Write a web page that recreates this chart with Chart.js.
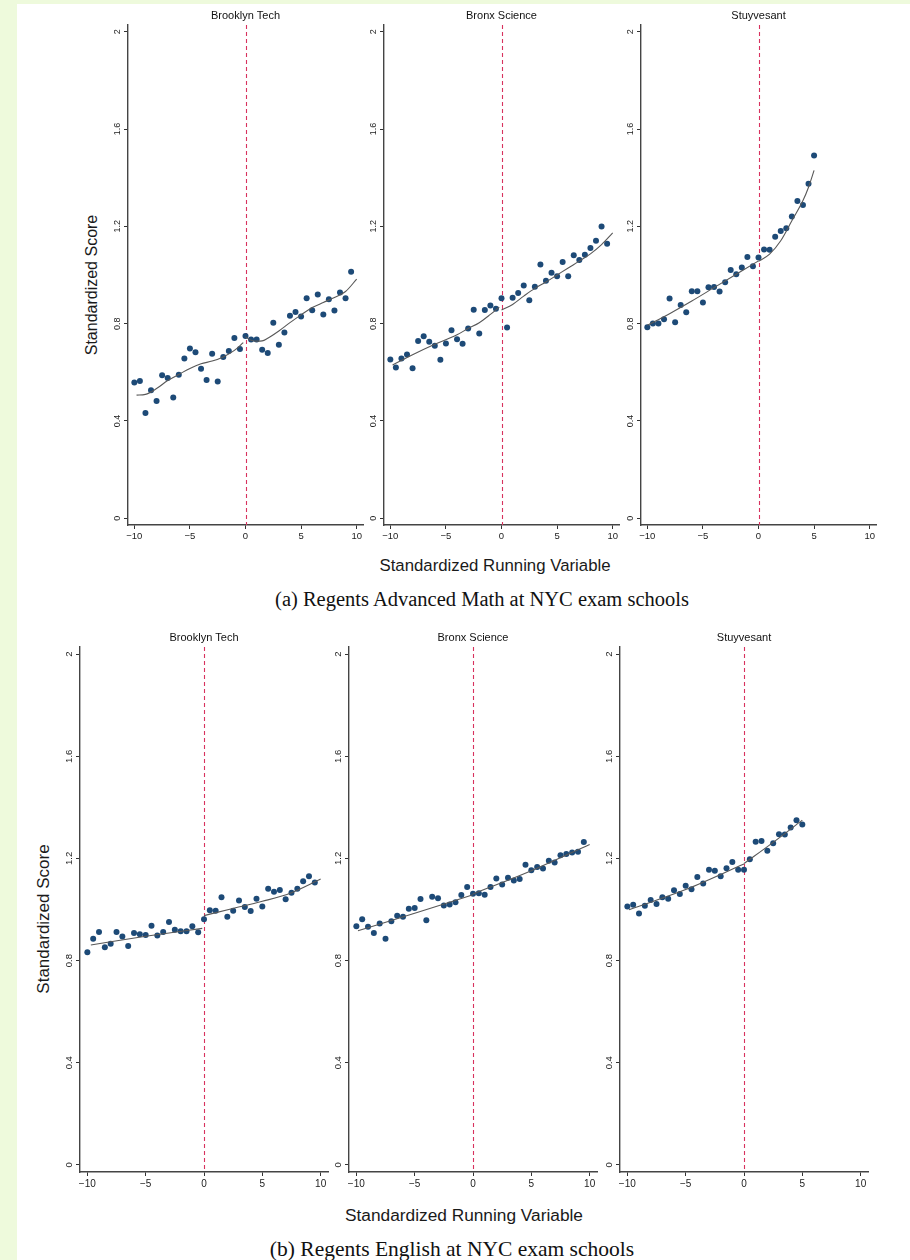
<!DOCTYPE html>
<html>
<head>
<meta charset="utf-8">
<script src="https://cdn.jsdelivr.net/npm/chart.js@4.4.0/dist/chart.umd.min.js"></script>
<style>
    html, body { margin: 0; padding: 0; }
    body { width: 910px; height: 1260px; background: #eefadc; position: relative; overflow: hidden;
           font-family: 'Liberation Sans', Arial, sans-serif; }
    #sheet { position: absolute; left: 17px; top: 4px; width: 893px; height: 1256px; background: #fff; }
    canvas { position: absolute; }
    .lbl { position: absolute; white-space: nowrap; color: #1a1a1a; transform: translate(-50%, -50%); }
    .ytitle { transform: translate(-50%, -50%) rotate(-90deg); }
    .cap { font-family: 'Liberation Serif', 'Times New Roman', serif; color: #111; }
</style>
</head>
<body>
<div id="sheet"></div>

<div class="lbl ytitle" style="left:92px;top:285px;font-size:16px">Standardized Score</div>
<div class="lbl" style="left:495px;top:566px;font-size:16.8px">Standardized Running Variable</div>
<div class="lbl cap" style="left:482px;top:599px;font-size:20.5px">(a) Regents Advanced Math at NYC exam schools</div>

<div class="lbl ytitle" style="left:44px;top:919px;font-size:17px">Standardized Score</div>
<div class="lbl" style="left:464px;top:1215px;font-size:17.3px">Standardized Running Variable</div>
<div class="lbl cap" style="left:452px;top:1249px;font-size:21.5px">(b) Regents English at NYC exam schools</div>

<script>
    "use strict";

    // running-variable bins
    const bins40 = [-10, -9.5, -9, -8.5, -8, -7.5, -7, -6.5, -6, -5.5, -5, -4.5, -4, -3.5, -3, -2.5, -2, -1.5, -1, -0.5,
        0, 0.5, 1, 1.5, 2, 2.5, 3, 3.5, 4, 4.5, 5, 5.5, 6, 6.5, 7, 7.5, 8, 8.5, 9, 9.5];
    const bins31 = [-10, -9.5, -9, -8.5, -8, -7.5, -7, -6.5, -6, -5.5, -5, -4.5, -4, -3.5, -3, -2.5, -2, -1.5, -1, -0.5,
        0, 0.5, 1, 1.5, 2, 2.5, 3, 3.5, 4, 4.5, 5];

    // (a) Regents Advanced Math
    const mathBrooklyn = [0.558, 0.564, 0.433, 0.526, 0.482, 0.588, 0.576, 0.496, 0.590, 0.657, 0.698, 0.682, 0.614, 0.568,
        0.676, 0.562, 0.663, 0.687, 0.741, 0.696, 0.749, 0.735, 0.735, 0.693, 0.679, 0.804, 0.713, 0.764, 0.832, 0.848,
        0.829, 0.904, 0.855, 0.920, 0.838, 0.900, 0.854, 0.928, 0.904, 1.013];
    const mathBronx = [0.653, 0.620, 0.657, 0.673, 0.617, 0.729, 0.748, 0.726, 0.709, 0.651, 0.718, 0.773, 0.736, 0.717,
        0.780, 0.857, 0.759, 0.856, 0.875, 0.861, 0.904, 0.784, 0.906, 0.926, 0.957, 0.896, 0.952, 1.043, 0.976, 1.009,
        0.995, 1.053, 0.995, 1.081, 1.062, 1.083, 1.111, 1.141, 1.199, 1.129];
    const mathStuy = [0.785, 0.801, 0.801, 0.818, 0.903, 0.806, 0.877, 0.847, 0.933, 0.933, 0.887, 0.950, 0.951, 0.932,
        0.970, 1.021, 1.003, 1.031, 1.074, 1.036, 1.072, 1.105, 1.104, 1.157, 1.181, 1.192, 1.241, 1.304, 1.288, 1.375, 1.491];

    const mathBrooklynFitL = [[-9.8, 0.506], [-9, 0.509], [-8, 0.533], [-7, 0.566], [-6, 0.591], [-5, 0.616], [-4, 0.635],
        [-3, 0.646], [-2, 0.663], [-1, 0.690], [-0.2, 0.722]];
    const mathBrooklynFitR = [[0, 0.745], [0.5, 0.732], [1, 0.728], [1.5, 0.729], [2, 0.740], [3, 0.770], [4, 0.804],
        [5, 0.836], [6, 0.866], [7, 0.887], [8, 0.907], [9, 0.932], [10, 0.983]];
    const mathBronxFitL = [[-9.8, 0.630], [-8, 0.672], [-6, 0.715], [-4, 0.754], [-3, 0.780], [-2, 0.804], [-1, 0.838], [-0.2, 0.868]];
    const mathBronxFitR = [[0, 0.856], [1, 0.879], [2, 0.913], [3, 0.945], [4, 0.971], [5, 1.000], [6, 1.029], [7, 1.057],
        [8, 1.087], [9, 1.125], [10, 1.173]];
    const mathStuyFitL = [[-10, 0.793], [-8, 0.841], [-6, 0.893], [-4, 0.948], [-2, 1.003], [0, 1.058]];
    const mathStuyFitR = [[0, 1.056], [1, 1.086], [2, 1.141], [3, 1.223], [4, 1.306], [4.5, 1.361], [5, 1.430]];

    // (b) Regents English
    const engBrooklyn = [0.833, 0.885, 0.912, 0.852, 0.866, 0.912, 0.894, 0.857, 0.908, 0.903, 0.900, 0.936, 0.898, 0.912,
        0.951, 0.921, 0.915, 0.915, 0.934, 0.911, 0.962, 0.997, 0.995, 1.048, 0.972, 0.995, 1.035, 1.010, 0.994, 1.042,
        1.012, 1.081, 1.070, 1.076, 1.040, 1.066, 1.081, 1.111, 1.130, 1.106];
    const engBronx = [0.934, 0.962, 0.932, 0.908, 0.945, 0.885, 0.954, 0.976, 0.972, 1.003, 1.006, 1.041, 0.958, 1.050,
        1.044, 1.016, 1.020, 1.028, 1.057, 1.088, 1.062, 1.064, 1.058, 1.088, 1.121, 1.098, 1.124, 1.114, 1.119, 1.175,
        1.154, 1.166, 1.161, 1.191, 1.184, 1.212, 1.217, 1.223, 1.226, 1.264];
    const engStuy = [1.012, 1.019, 0.984, 1.015, 1.037, 1.022, 1.048, 1.042, 1.075, 1.061, 1.093, 1.079, 1.127, 1.102,
        1.156, 1.152, 1.130, 1.162, 1.186, 1.156, 1.156, 1.197, 1.265, 1.268, 1.230, 1.259, 1.295, 1.294, 1.321, 1.350, 1.333];

    const engBrooklynFitL = [[-9.7, 0.861], [-5, 0.895], [-0.15, 0.926]];
    const engBrooklynFitR = [[0, 0.976], [2.3, 1.002], [5, 1.032], [7.4, 1.064], [10, 1.119]];
    const engBronxFitL = [[-9.86, 0.917], [-5, 0.985], [0, 1.058]];
    const engBronxFitR = [[0, 1.061], [5, 1.152], [10, 1.255]];
    const engStuyFitL = [[-9.86, 0.999], [-5, 1.078], [0, 1.178]];
    const engStuyFitR = [[0, 1.180], [2.5, 1.263], [5, 1.350]];

    const schools = ['Brooklyn Tech', 'Bronx Science', 'Stuyvesant'];
    const cutoff = 0;
    const xTickValues = [-10, -5, 0, 5, 10];
    const yTickValues = [0, 0.4, 0.8, 1.2, 1.6, 2];
    const yTickLabels = ['0', '0.4', '0.8', '1.2', '1.6', '2'];

    const FONT = "'Liberation Sans', Arial, sans-serif";

    // chart-area boxes [left, top, right, bottom] in page pixels
    const panels = [
        {title: schools[0], xs: bins40, ys: mathBrooklyn, fitL: mathBrooklynFitL, fitR: mathBrooklynFitR, area: [128, 25, 363, 525], xr: 10.57, tick: 9.5},
        {title: schools[1], xs: bins40, ys: mathBronx, fitL: mathBronxFitL, fitR: mathBronxFitR, area: [384, 25, 619, 525], xr: 10.57, tick: 9.5},
        {title: schools[2], xs: bins31, ys: mathStuy, fitL: mathStuyFitL, fitR: mathStuyFitR, area: [641, 25, 876, 525], xr: 10.57, tick: 9.5},
        {title: schools[0], xs: bins40, ys: engBrooklyn, fitL: engBrooklynFitL, fitR: engBrooklynFitR, area: [80, 647, 328, 1172], xr: 10.63, tick: 10},
        {title: schools[1], xs: bins40, ys: engBronx, fitL: engBronxFitL, fitR: engBronxFitR, area: [349, 647, 597, 1172], xr: 10.63, tick: 10},
        {title: schools[2], xs: bins31, ys: engStuy, fitL: engStuyFitL, fitR: engStuyFitR, area: [620, 647, 868, 1172], xr: 10.63, tick: 10}
    ];

    const cutoffLine = {
        id: 'cutoffLine',
        beforeDatasetsDraw(chart) {
            const {ctx, chartArea, scales} = chart;
            const x = Math.round(scales.x.getPixelForValue(cutoff)) + 0.5;
            ctx.save();
            ctx.strokeStyle = '#d8325e';
            ctx.lineWidth = 1.1;
            ctx.setLineDash([4, 3]);
            ctx.beginPath();
            ctx.moveTo(x, chartArea.top);
            ctx.lineTo(x, chartArea.bottom);
            ctx.stroke();
            ctx.restore();
        }
    };

    function fitDataset(pairs) {
        return {
            data: pairs.map(p => ({x: p[0], y: p[1]})),
            showLine: true,
            borderColor: '#585858',
            borderWidth: 1.1,
            pointRadius: 0,
            cubicInterpolationMode: 'monotone',
            order: 0
        };
    }

    function makePanel(p) {
        const Wy = 30, Ht = 16, Hx = 30, padR = 8;
        const [l, t, r, b] = p.area;
        const w = r - l + Wy + padR;
        const h = b - t + Ht + Hx;

        const cv = document.createElement('canvas');
        cv.width = w;
        cv.height = h;
        cv.style.left = (l - Wy) + 'px';
        cv.style.top = (t - Ht) + 'px';
        cv.style.width = w + 'px';
        cv.style.height = h + 'px';
        document.body.appendChild(cv);

        const axisGrid = {drawOnChartArea: false, drawTicks: true, tickLength: 4, color: '#333', lineWidth: 1};
        const axisBorder = {display: true, color: '#444', width: 1.4};

        new Chart(cv, {
            type: 'scatter',
            data: {
                datasets: [
                    fitDataset(p.fitL),
                    fitDataset(p.fitR),
                    {
                        data: p.xs.map((x, i) => ({x: x, y: p.ys[i]})),
                        pointRadius: 3,
                        pointBackgroundColor: '#1d4a77',
                        pointBorderWidth: 0,
                        showLine: false,
                        order: 1
                    }
                ]
            },
            options: {
                responsive: false,
                animation: false,
                devicePixelRatio: 1,
                events: [],
                layout: {padding: {left: 0, top: 0, right: padR, bottom: 0}},
                plugins: {
                    legend: {display: false},
                    tooltip: {enabled: false},
                    title: {
                        display: true,
                        text: p.title,
                        fullSize: false,
                        padding: {top: 0, bottom: 2.8},
                        font: {size: 11, family: FONT, weight: 'normal', lineHeight: 1.2},
                        color: '#111'
                    }
                },
                scales: {
                    x: {
                        type: 'linear',
                        min: -p.xr,
                        max: p.xr,
                        afterBuildTicks: s => { s.ticks = xTickValues.map(v => ({value: v})); },
                        afterFit: s => { s.height = Hx; },
                        ticks: {
                            callback: v => (v < 0 ? '\u2212' + Math.abs(v) : String(v)),
                            font: {size: p.tick, family: FONT},
                            color: '#222',
                            padding: 2,
                            maxRotation: 0,
                            autoSkip: false
                        },
                        grid: axisGrid,
                        border: axisBorder
                    },
                    y: {
                        type: 'linear',
                        min: -0.028,
                        max: 2.028,
                        afterBuildTicks: s => { s.ticks = yTickValues.map(v => ({value: v})); },
                        afterFit: s => { s.width = Wy; },
                        ticks: {
                            callback: (v, i) => yTickLabels[i],
                            font: {size: p.tick - 0.5, family: FONT},
                            color: '#222',
                            minRotation: 90,
                            maxRotation: 90,
                            crossAlign: 'center',
                            padding: 0.5,
                            autoSkip: false
                        },
                        grid: axisGrid,
                        border: axisBorder
                    }
                }
            },
            plugins: [cutoffLine]
        });
    }

    panels.forEach(makePanel);
</script>
</body>
</html>
